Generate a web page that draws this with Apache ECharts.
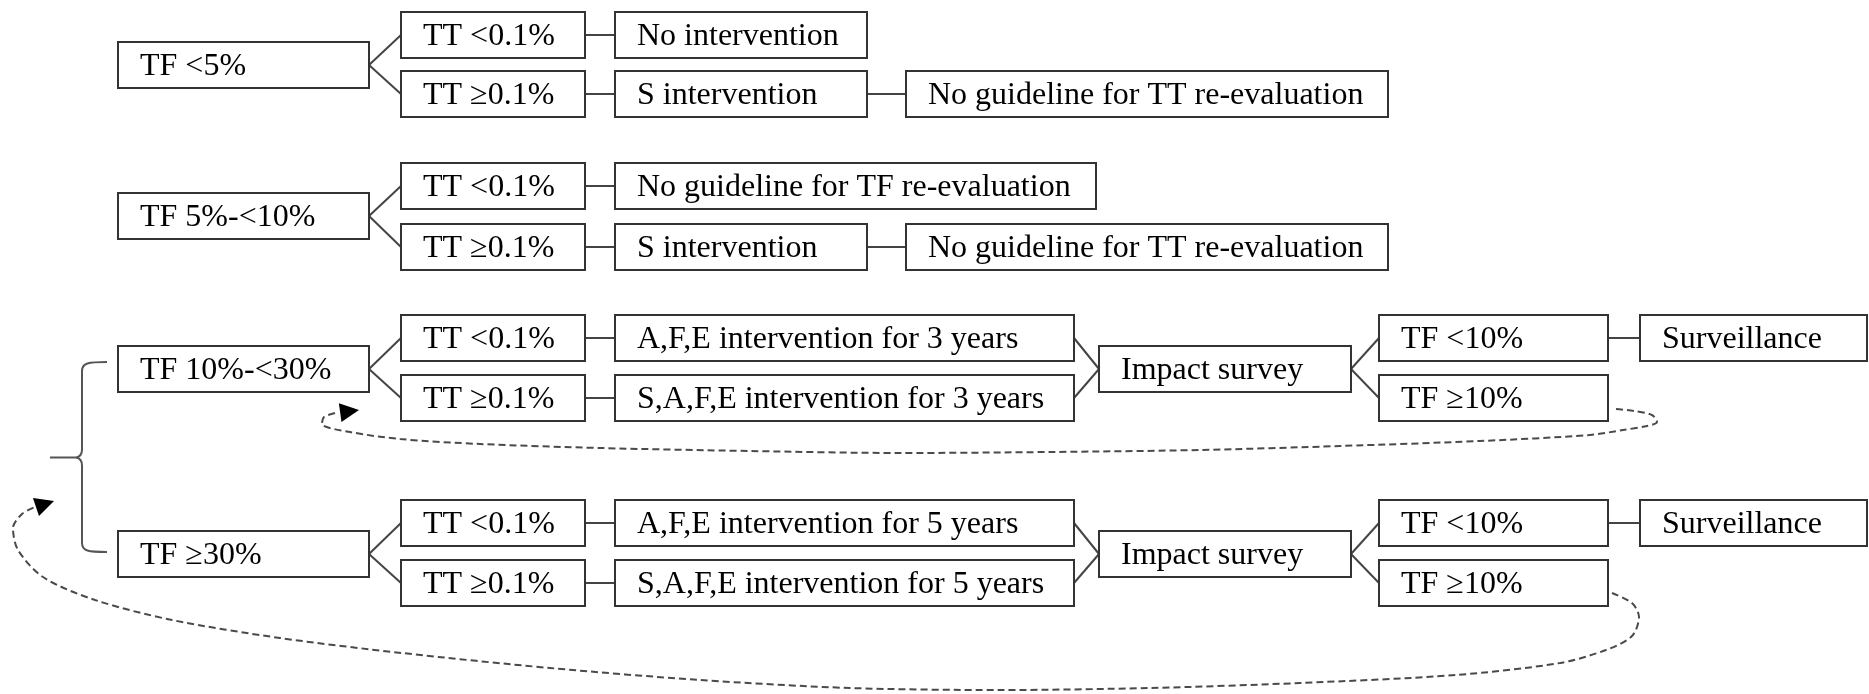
<!DOCTYPE html>
<html>
<head>
<meta charset="utf-8">
<title>TF / TT decision tree</title>
<script src="https://cdn.jsdelivr.net/npm/echarts@6/dist/echarts.min.js"></script>
<style>
  html, body { margin: 0; padding: 0; background: #fff; }
  #chart { width: 1869px; height: 694px; }
</style>
</head>
<body>
<div id="chart"></div>
<script>
// box texts, in drawing order
var labels = [
  'TF <5%', 'TT <0.1%', 'TT \u22650.1%', 'No intervention', 'S intervention',
  'No guideline for TT re-evaluation',
  'TF 5%-<10%', 'TT <0.1%', 'TT \u22650.1%', 'No guideline for TF re-evaluation',
  'S intervention', 'No guideline for TT re-evaluation',
  'TF 10%-<30%', 'TT <0.1%', 'TT \u22650.1%', 'A,F,E intervention for 3 years',
  'S,A,F,E intervention for 3 years', 'Impact survey', 'TF <10%', 'TF \u226510%', 'Surveillance',
  'TF \u226530%', 'TT <0.1%', 'TT \u22650.1%', 'A,F,E intervention for 5 years',
  'S,A,F,E intervention for 5 years', 'Impact survey', 'TF <10%', 'TF \u226510%', 'Surveillance'
];

// box extents [left, top, right, bottom] in diagram units
var boxes = [
  [118, 42, 369, 88], [401, 12, 585, 58], [401, 71, 585, 117], [615, 12, 867, 58], [615, 71, 867, 117],
  [906, 71, 1388, 117],
  [118, 193, 369, 239], [401, 163, 585, 209], [401, 224, 585, 270], [615, 163, 1096, 209],
  [615, 224, 867, 270], [906, 224, 1388, 270],
  [118, 346, 369, 392], [401, 315, 585, 361], [401, 375, 585, 421], [615, 315, 1074, 361],
  [615, 375, 1074, 421], [1099, 346, 1351, 392], [1379, 315, 1608, 361], [1379, 375, 1608, 421], [1640, 315, 1867, 361],
  [118, 531, 369, 577], [401, 500, 585, 546], [401, 560, 585, 606], [615, 500, 1074, 546],
  [615, 560, 1074, 606], [1099, 531, 1351, 577], [1379, 500, 1608, 546], [1379, 560, 1608, 606], [1640, 500, 1867, 546]
];

// solid connectors [from box, to box]
var links = [
  [0, 1], [0, 2], [1, 3], [2, 4], [4, 5],
  [6, 7], [6, 8], [7, 9], [8, 10], [10, 11],
  [12, 13], [12, 14], [13, 15], [14, 16], [15, 17], [16, 17], [17, 18], [17, 19], [18, 20],
  [21, 22], [21, 23], [22, 24], [23, 25], [24, 26], [25, 26], [26, 27], [26, 28], [27, 29]
];

// dashed loop back from "TF >=10%" (3 years) to TF 10%-<30%
var loopShort = [
  [1616, 409], [1634, 411], [1652, 415], [1657, 422], [1647, 426], [1623, 430], [1590, 435],
  [1480, 441], [1340, 446], [1200, 450], [1050, 452], [900, 453], [750, 451], [600, 448],
  [480, 444], [400, 439], [350, 432], [322, 424], [324, 417], [335, 413]
];

// dashed loop back from "TF >=10%" (5 years) to the brace
var loopLong = [
  [1612, 593], [1632, 603], [1639, 617], [1632, 636], [1606, 650], [1560, 663],
  [1456, 675], [1300, 683], [1150, 688], [1000, 690], [850, 688], [700, 680],
  [550, 668], [402, 653], [280, 638], [172, 620], [95, 600],
  [43, 577], [18, 550], [13, 528], [22, 514], [35, 507]
];

// arrow heads [line end x, line end y, tip x, tip y]
var arrows = [
  [337, 413, 359, 410],
  [36, 507, 54, 501]
];

// curly bracket [right x, spine x, point x, top y, middle y, bottom y]
var brace = [[107, 82, 50, 362, 457.5, 552]];

var FONT = '32px "Liberation Serif", "Times New Roman", serif';
var INK = '#333';

function renderBox(params, api) {
  var p0 = api.coord([api.value(0), api.value(1)]);
  var p1 = api.coord([api.value(2), api.value(3)]);
  var x = Math.round(p0[0]), y = Math.round(p0[1]);
  var w = Math.round(p1[0] - p0[0]), h = Math.round(p1[1] - p0[1]);
  return {
    type: 'group',
    children: [
      { type: 'rect', shape: { x: x, y: y, width: w, height: h },
        style: { fill: '#fff', stroke: INK, lineWidth: 2 } },
      { type: 'text',
        style: { text: labels[params.dataIndex], x: x + 22, y: y + h / 2 + 2,
                 font: FONT, fill: '#000', textAlign: 'left', textVerticalAlign: 'middle' } }
    ]
  };
}

function renderLink(params, api) {
  var a = api.coord([api.value(0), api.value(1)]);
  var b = api.coord([api.value(2), api.value(3)]);
  return { type: 'line', shape: { x1: a[0], y1: a[1], x2: b[0], y2: b[1] },
           style: { stroke: '#444', lineWidth: 2 } };
}

function renderArrow(params, api) {
  var a = api.coord([api.value(0), api.value(1)]);
  var t = api.coord([api.value(2), api.value(3)]);
  var dx = t[0] - a[0], dy = t[1] - a[1];
  var len = Math.sqrt(dx * dx + dy * dy);
  var ux = dx / len, uy = dy / len;
  var bx = t[0] - ux * 19, by = t[1] - uy * 19;
  var hw = 9.5;
  return { type: 'polygon',
           shape: { points: [[t[0], t[1]], [bx - uy * hw, by + ux * hw], [bx + uy * hw, by - ux * hw]] },
           style: { fill: '#000' } };
}

function renderBrace(params, api) {
  var xr = api.value(0), xs = api.value(1), xp = api.value(2);
  var yt = api.value(3), ym = api.value(4), yb = api.value(5);
  function c(x, y) { var p = api.coord([x, y]); return p[0].toFixed(1) + ' ' + p[1].toFixed(1); }
  var d = 'M ' + c(xr, yt) + ' C ' + c(xs + 6, yt) + ' ' + c(xs, yt + 1) + ' ' + c(xs, yt + 9) +
          ' L ' + c(xs, ym - 8) + ' Q ' + c(xs, ym - 1) + ' ' + c(xs - 6, ym) +
          ' L ' + c(xp, ym) +
          ' M ' + c(xs - 6, ym) + ' Q ' + c(xs, ym + 1) + ' ' + c(xs, ym + 8) +
          ' L ' + c(xs, yb - 9) + ' C ' + c(xs, yb - 1) + ' ' + c(xs + 6, yb) + ' ' + c(xr, yb);
  return { type: 'path', shape: { pathData: d },
           style: { fill: 'none', stroke: '#555', lineWidth: 2 } };
}

var linkData = links.map(function (l) {
  var s = boxes[l[0]], t = boxes[l[1]];
  return [s[2], (s[1] + s[3]) / 2, t[0], (t[1] + t[3]) / 2];
});

var dashStyle = { color: '#4a4a4a', width: 2, type: [7, 4] };

var chart = echarts.init(document.getElementById('chart'));
chart.setOption({
  backgroundColor: '#fff',
  animation: false,
  grid: { left: 0, right: 0, top: 0, bottom: 0 },
  xAxis: { type: 'value', min: 0, max: 1869, show: false },
  yAxis: { type: 'value', min: 0, max: 694, inverse: true, show: false },
  series: [
    { type: 'line', data: loopShort, smooth: 0.3, showSymbol: false, lineStyle: dashStyle, z: 1 },
    { type: 'line', data: loopLong, smooth: 0.3, showSymbol: false, lineStyle: dashStyle, z: 1 },
    { type: 'custom', renderItem: renderArrow, data: arrows, z: 2 },
    { type: 'custom', renderItem: renderBrace, data: brace, z: 2 },
    { type: 'custom', renderItem: renderLink, data: linkData, z: 3 },
    { type: 'custom', renderItem: renderBox, data: boxes, encode: { x: [0, 2], y: [1, 3] }, z: 4 }
  ]
});
</script>
</body>
</html>
